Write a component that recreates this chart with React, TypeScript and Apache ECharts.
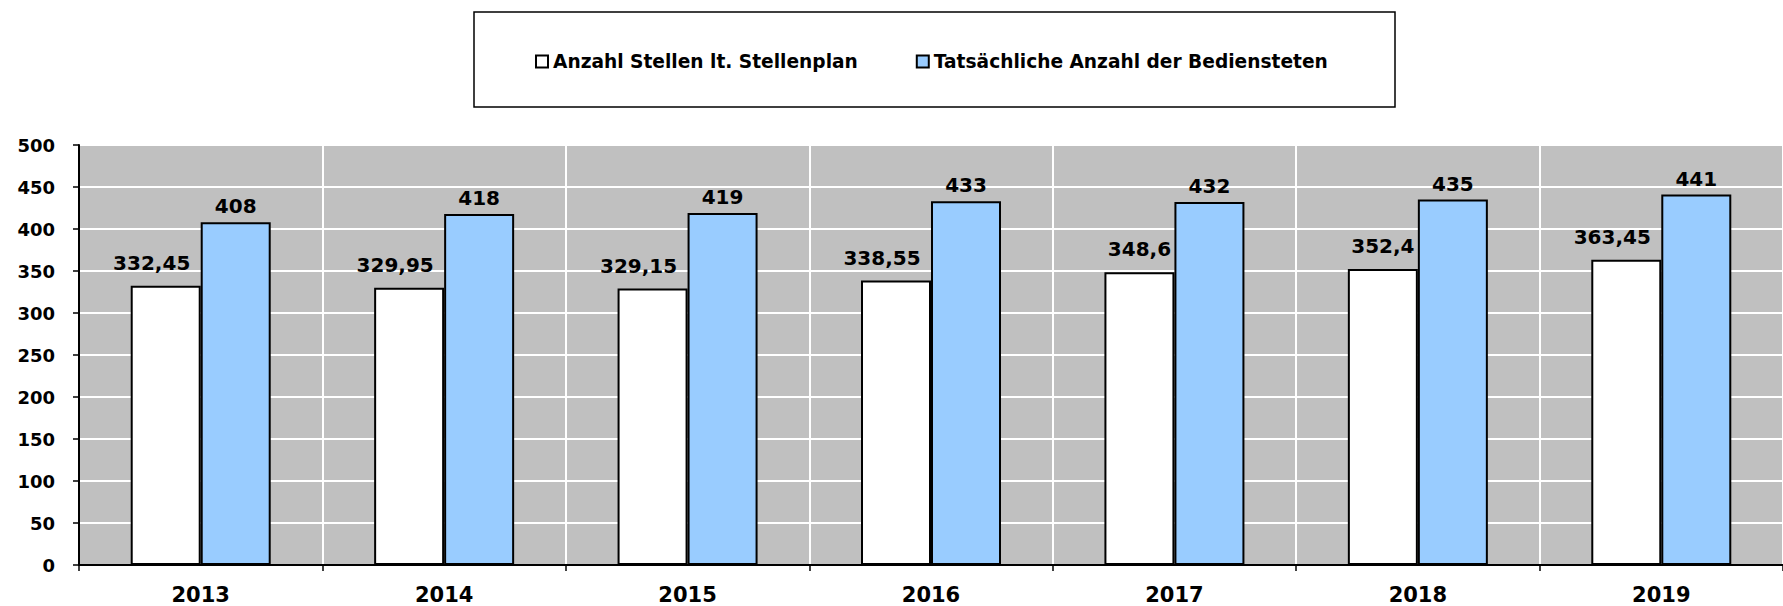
import React, { useEffect, useRef } from "react";
import * as echarts from "echarts";

const categories = ["2013", "2014", "2015", "2016", "2017", "2018", "2019"];
const stellenplan = [332.45, 329.95, 329.15, 338.55, 348.6, 352.4, 363.45];
const bedienstete = [408, 418, 419, 433, 432, 435, 441];
const seriesNames = ["Anzahl Stellen lt. Stellenplan", "Tatsächliche Anzahl der Bediensteten"];
const yTicks = { min: 0, max: 500, interval: 50 };

const FONT = "'DejaVu Sans', 'Liberation Sans', Arial, sans-serif";
const fmt = (v: number) => String(v).replace(".", ",");

export default function App() {
  const ref = useRef<HTMLDivElement>(null);
  useEffect(() => {
    if (!ref.current) return;
    const chart = echarts.init(ref.current, undefined, { renderer: "svg" });
    chart.setOption({
      animation: false,
      backgroundColor: "#ffffff",
      graphic: [
        {
          type: "rect",
          shape: { x: 474, y: 12, width: 921, height: 95 },
          style: { fill: "none", stroke: "#000", lineWidth: 1.5 },
          z: 10,
        },
      ],
      legend: {
        left: 530,
        top: 47,
        itemWidth: 12,
        itemHeight: 12,
        itemGap: 58,
        icon: "rect",
        textStyle: { fontFamily: FONT, fontWeight: "bold", fontSize: 18.6, color: "#000" },
        data: seriesNames,
      },
      grid: {
        left: 79,
        top: 145,
        width: 1718,
        height: 420,
        show: true,
        backgroundColor: "#C0C0C0",
        borderWidth: 0,
        containLabel: false,
      },
      xAxis: {
        type: "category",
        data: categories,
        axisLine: { show: true, lineStyle: { color: "#000", width: 2 } },
        axisTick: { show: true, length: 6, lineStyle: { color: "#000", width: 1.5 } },
        splitLine: { show: true, lineStyle: { color: "#ffffff", width: 2 } },
        axisLabel: { fontFamily: FONT, fontWeight: "bold", fontSize: 21, color: "#000", margin: 19 },
      },
      yAxis: {
        type: "value",
        min: yTicks.min,
        max: yTicks.max,
        interval: yTicks.interval,
        axisLine: { show: true, lineStyle: { color: "#000", width: 2 } },
        axisTick: { show: true, length: 6, lineStyle: { color: "#000", width: 1.5 } },
        splitLine: { show: true, lineStyle: { color: "#ffffff", width: 2 } },
        axisLabel: { fontFamily: FONT, fontWeight: "bold", fontSize: 18, color: "#000", margin: 24 },
      },
      series: [
        {
          name: seriesNames[0],
          type: "bar",
          data: stellenplan.map((v) => ({
            value: v,
            label: { offset: fmt(v).length > 5 ? [-14, 0] : [0, 0] },
          })),
          barWidth: 70,
          barGap: "0%",
          itemStyle: { color: "#ffffff", borderColor: "#000", borderWidth: 2 },
          label: {
            show: true,
            position: "top",
            distance: 13,
            formatter: (p: any) => fmt(p.value),
            fontFamily: FONT,
            fontWeight: "bold",
            fontSize: 20,
            color: "#000",
          },
        },
        {
          name: seriesNames[1],
          type: "bar",
          data: bedienstete,
          barWidth: 70,
          barGap: "0%",
          itemStyle: { color: "#99CCFF", borderColor: "#000", borderWidth: 2 },
          label: {
            show: true,
            position: "top",
            distance: 6,
            formatter: (p: any) => fmt(p.value),
            fontFamily: FONT,
            fontWeight: "bold",
            fontSize: 20,
            color: "#000",
          },
        },
      ],
    });
    return () => chart.dispose();
  }, []);
  return (
    <div
      ref={ref}
      style={{ position: "fixed", left: 0, top: 0, width: 1783, height: 606 }}
    />
  );
}
